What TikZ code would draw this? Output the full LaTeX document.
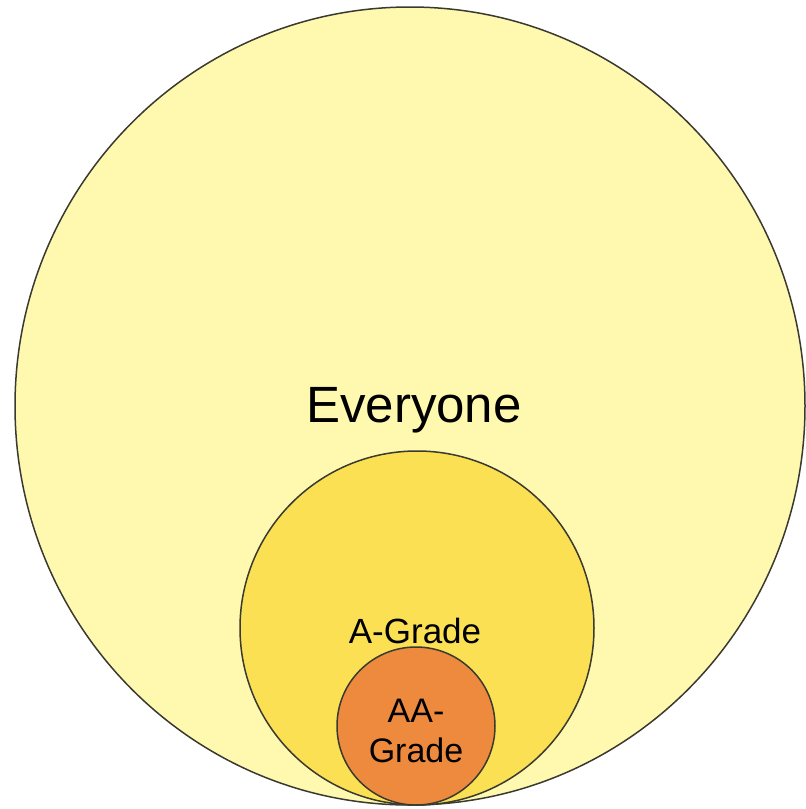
\documentclass[tikz,border=0pt]{standalone}
\usepackage{fontspec}
\setmainfont{Liberation Sans}
\usepackage{tikz}
\usetikzlibrary{shapes.geometric, positioning}
\definecolor{paleyellow}{HTML}{FFF9B0}
\definecolor{goldyellow}{HTML}{FAE052}
\definecolor{deeporange}{HTML}{EE8A3E}
\definecolor{rimgrey}{HTML}{3A3A30}
\tikzset{
    ring/.style={
        circle, draw=rimgrey, line width=1.5pt,
        inner sep=0pt
    },
    outerring/.style={
        ellipse, draw=rimgrey, line width=1.5pt,
        fill=paleyellow, inner sep=0pt,
        minimum width=790pt, minimum height=798pt
    },
    tag/.style={anchor=base, inner sep=0pt, text=black}
}
\begin{document}
\begin{tikzpicture}[x=1pt, y=-1pt]
        \useasboundingbox (0,0) rectangle (806,809);
        % Sets
        \node [outerring] (everyone) at (410,406) {};
        \node [ring, fill=goldyellow, minimum size=354pt] (agrade) at (417,628) {};
        \node [ring, fill=deeporange, minimum size=158pt] (aagrade) at (416,726) {};

        % Labels
        \node [tag, font=\fontsize{51}{58}\selectfont] (everyonelabel) at (414,422) {Everyone};
        \node [tag, font=\fontsize{35}{42}\selectfont] (agradelabel) at (415,643) {A-Grade};
        \node [tag, font=\fontsize{34}{40}\selectfont] (aalabel) at (416,722) {AA-};
        \node [tag, font=\fontsize{34}{40}\selectfont] (gradelabel) at (416,762) {Grade};

    \end{tikzpicture}
\end{document}
